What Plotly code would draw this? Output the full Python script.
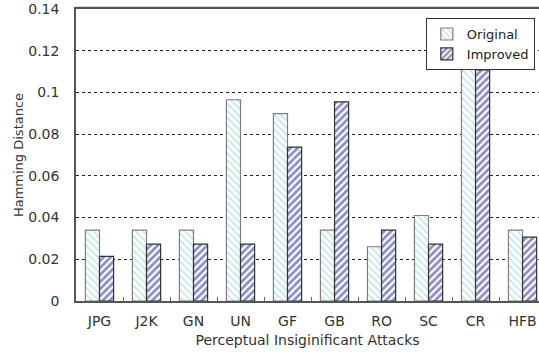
import plotly.graph_objects as go

categories = ["JPG", "J2K", "GN", "UN", "GF", "GB", "RO", "SC", "CR", "HFB"]
original = [0.034, 0.034, 0.034, 0.0965, 0.0898, 0.034, 0.026, 0.041, 0.1147, 0.034]
improved = [0.0214, 0.0273, 0.0273, 0.0273, 0.0738, 0.0955, 0.034, 0.0273, 0.1108, 0.0306]
y_ticks = [0, 0.02, 0.04, 0.06, 0.08, 0.1, 0.12, 0.14]
y_tick_text = ["0", "0.02", "0.04", "0.06", "0.08", "0.1", "0.12", "0.14"]

font_family = "DejaVu Sans"

fig = go.Figure()
fig.add_trace(go.Bar(
    x=categories, y=original, name="Original",
    marker=dict(color="white",
                line=dict(color="#7f7f7f", width=1.2),
                pattern=dict(shape="\\", fgcolor="#9cd6d6", bgcolor="white",
                             size=5, solidity=0.45)),
))
fig.add_trace(go.Bar(
    x=categories, y=improved, name="Improved",
    marker=dict(color="white",
                line=dict(color="#333333", width=1.2),
                pattern=dict(shape="/", fgcolor="#1c1c8a", bgcolor="white",
                             size=5, solidity=0.55)),
))

# top frame line of the plot area
fig.add_shape(type="line", xref="paper", yref="paper", x0=0, x1=1, y0=1.004, y1=1.004,
              line=dict(color="#555555", width=2), layer="above")

fig.update_layout(
    width=539, height=353,
    margin=dict(l=76, r=0, t=9, b=52, autoexpand=False),
    paper_bgcolor="white", plot_bgcolor="white",
    barmode="group", bargap=0.4, bargroupgap=0,
    font=dict(family=font_family, size=14, color="#333333"),
    showlegend=True,
    legend=dict(x=0.991, y=0.969, xanchor="right", yanchor="top",
                bordercolor="#333333", borderwidth=1, bgcolor="white",
                font=dict(size=13, color="#222222"),
                itemwidth=30, tracegroupgap=0),
    xaxis=dict(
        range=[-0.5, 9.35], automargin=False,
        showline=True, linecolor="#555555", linewidth=1.5, mirror=True,
        ticks="inside", tickson="boundaries", ticklen=4, tickcolor="#666666",
        showgrid=False, ticklabelstandoff=6, ticklabeloverflow="allow",
        tickfont=dict(size=14, color="#333333"),
        title=dict(text="Perceptual Insiginificant Attacks",
                   font=dict(size=14, color="#333333"), standoff=8),
    ),
    yaxis=dict(
        range=[0, 0.14], automargin=False,
        tickvals=y_ticks, ticktext=y_tick_text,
        showline=True, linecolor="#555555", linewidth=1.5,
        showgrid=True, gridcolor="#222222", griddash="dot", gridwidth=1,
        zeroline=False, ticklabeloverflow="allow",
        ticks="", ticklabelstandoff=12,
        tickfont=dict(size=14, color="#333333"),
        title=dict(text="Hamming Distance",
                   font=dict(size=13, color="#333333"), standoff=2),
    ),
)

fig.write_html("out.html", config={"displayModeBar": False},
               post_script="document.body.style.margin='0px';")
